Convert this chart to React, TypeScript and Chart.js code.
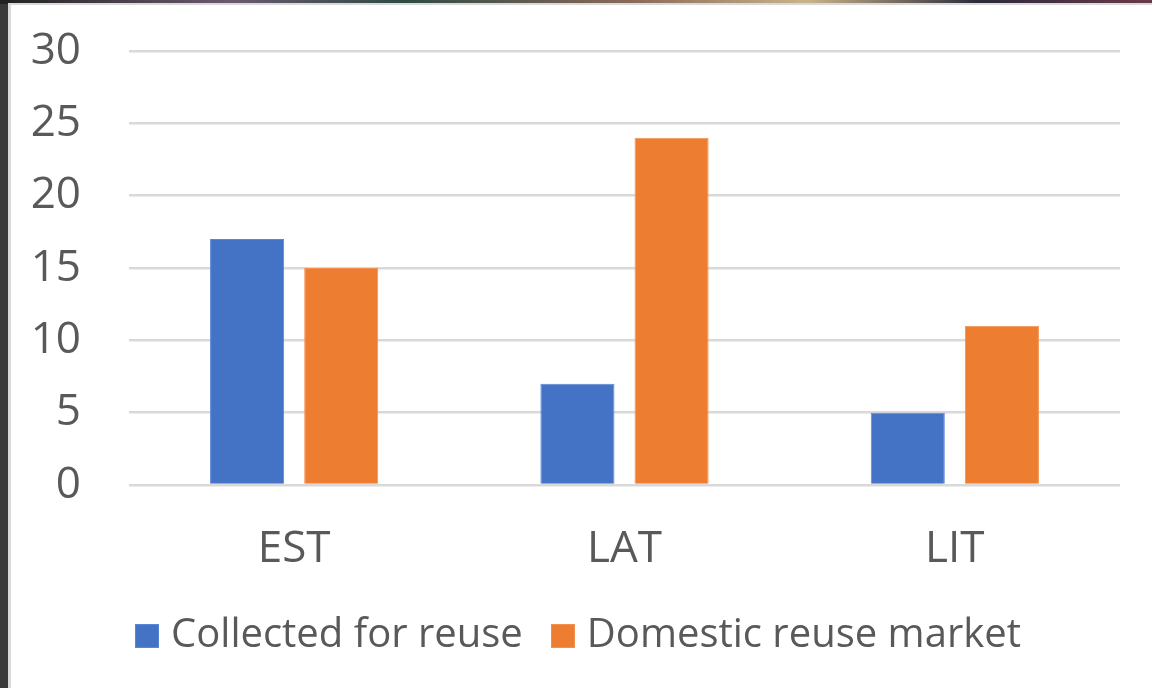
import React, { useEffect, useRef } from "react";
import { Chart, registerables } from "chart.js";

Chart.register(...registerables);

const categories = ["EST", "LAT", "LIT"];
const collectedForReuse = [17, 7, 5];
const domesticReuseMarket = [15, 24, 11];
const seriesNames = ["Collected for reuse", "Domestic reuse market"];
const seriesColors = ["#4472C4", "#ED7D31"];
const seriesEdges = ["#5b86d6", "#f2904e"];
const yTicks = [0, 5, 10, 15, 20, 25, 30];

const FONT = "'Open Sans', 'Noto Sans', sans-serif";
const TEXT = "#595959";

const legendShift = {
  id: "legendShift",
  afterLayout(chart: any) {
    const lg = chart.legend;
    if (lg) {
      lg.left += 7;
      lg.right += 7;
    }
  },
};

function makeSwatch(fill: string, edge: string): HTMLCanvasElement {
  const c = document.createElement("canvas");
  c.width = 24;
  c.height = 24;
  const ctx = c.getContext("2d")!;
  ctx.fillStyle = edge;
  ctx.fillRect(0, 0, 24, 24);
  ctx.fillStyle = fill;
  ctx.fillRect(1, 1, 22, 22);
  return c;
}

export default function App() {
  const ref = useRef<HTMLCanvasElement | null>(null);

  useEffect(() => {
    if (!ref.current) return;
    const swatches = seriesColors.map((c, i) => makeSwatch(c, seriesEdges[i]));
    const chart = new Chart(ref.current, {
      type: "bar",
      data: {
        labels: categories,
        datasets: [
          {
            label: seriesNames[0],
            data: collectedForReuse,
            backgroundColor: seriesColors[0],
            borderColor: seriesEdges[0],
            borderWidth: 1,
            pointStyle: swatches[0] as any,
          },
          {
            label: seriesNames[1],
            data: domesticReuseMarket,
            backgroundColor: seriesColors[1],
            borderColor: seriesEdges[1],
            borderWidth: 1,
            pointStyle: swatches[1] as any,
          },
        ],
      },
      options: {
        responsive: false,
        animation: false,
        devicePixelRatio: 1,
        datasets: {
          bar: { categoryPercentage: 0.57, barPercentage: 0.787 },
        },
        layout: { padding: { left: 30, right: 32, top: 51, bottom: 22 } },
        plugins: {
          tooltip: { enabled: false },
          legend: {
            position: "bottom",
            labels: {
              color: TEXT,
              font: { family: FONT, size: 40 },
              usePointStyle: true,
              pointStyleWidth: 8,
              boxHeight: 24,
              padding: 36,
            },
          },
        },
        scales: {
          x: {
            afterFit: (axis: any) => {
              axis.height = 95;
            },
            grid: { display: false, drawTicks: false },
            border: { display: false },
            ticks: {
              color: TEXT,
              font: { family: FONT, size: 44 },
              padding: 38,
            },
          },
          y: {
            min: 0,
            max: 30,
            afterBuildTicks: (axis: any) => {
              axis.ticks = yTicks.map((v) => ({ value: v }));
            },
            afterFit: (axis: any) => {
              axis.width = 99;
              axis.paddingTop = 0;
              axis.paddingBottom = 0;
            },
            grid: { color: "#d9d9d9", lineWidth: 2.5, drawTicks: false },
            border: { display: false },
            ticks: {
              color: TEXT,
              font: { family: FONT, size: 44 },
              padding: 48,
            },
          },
        },
      },
      plugins: [legendShift],
    });
    return () => chart.destroy();
  }, []);

  return (
    <div style={{ position: "fixed", left: 0, top: 0, width: 1152, height: 688, background: "#3a3a3a", overflow: "hidden" }}>
      <div style={{ position: "absolute", left: 0, top: 0, width: 1152, height: 4, background: "linear-gradient(90deg,#222 0%,#6b5a6e 20%,#2f4a44 35%,#8a6a5a 55%,#c9b48a 70%,#2a2a3a 85%,#6a3a4a 100%)" }} />
      <div style={{ position: "absolute", left: 8, top: 3, right: 0, bottom: 0, background: "#d9d9d9" }} />
      <div style={{ position: "absolute", left: 11, top: 5, right: 0, bottom: 0, background: "#ffffff" }} />
      <canvas ref={ref} width={1152} height={688} style={{ position: "absolute", left: 0, top: 0, width: 1152, height: 688 }} />
    </div>
  );
}
